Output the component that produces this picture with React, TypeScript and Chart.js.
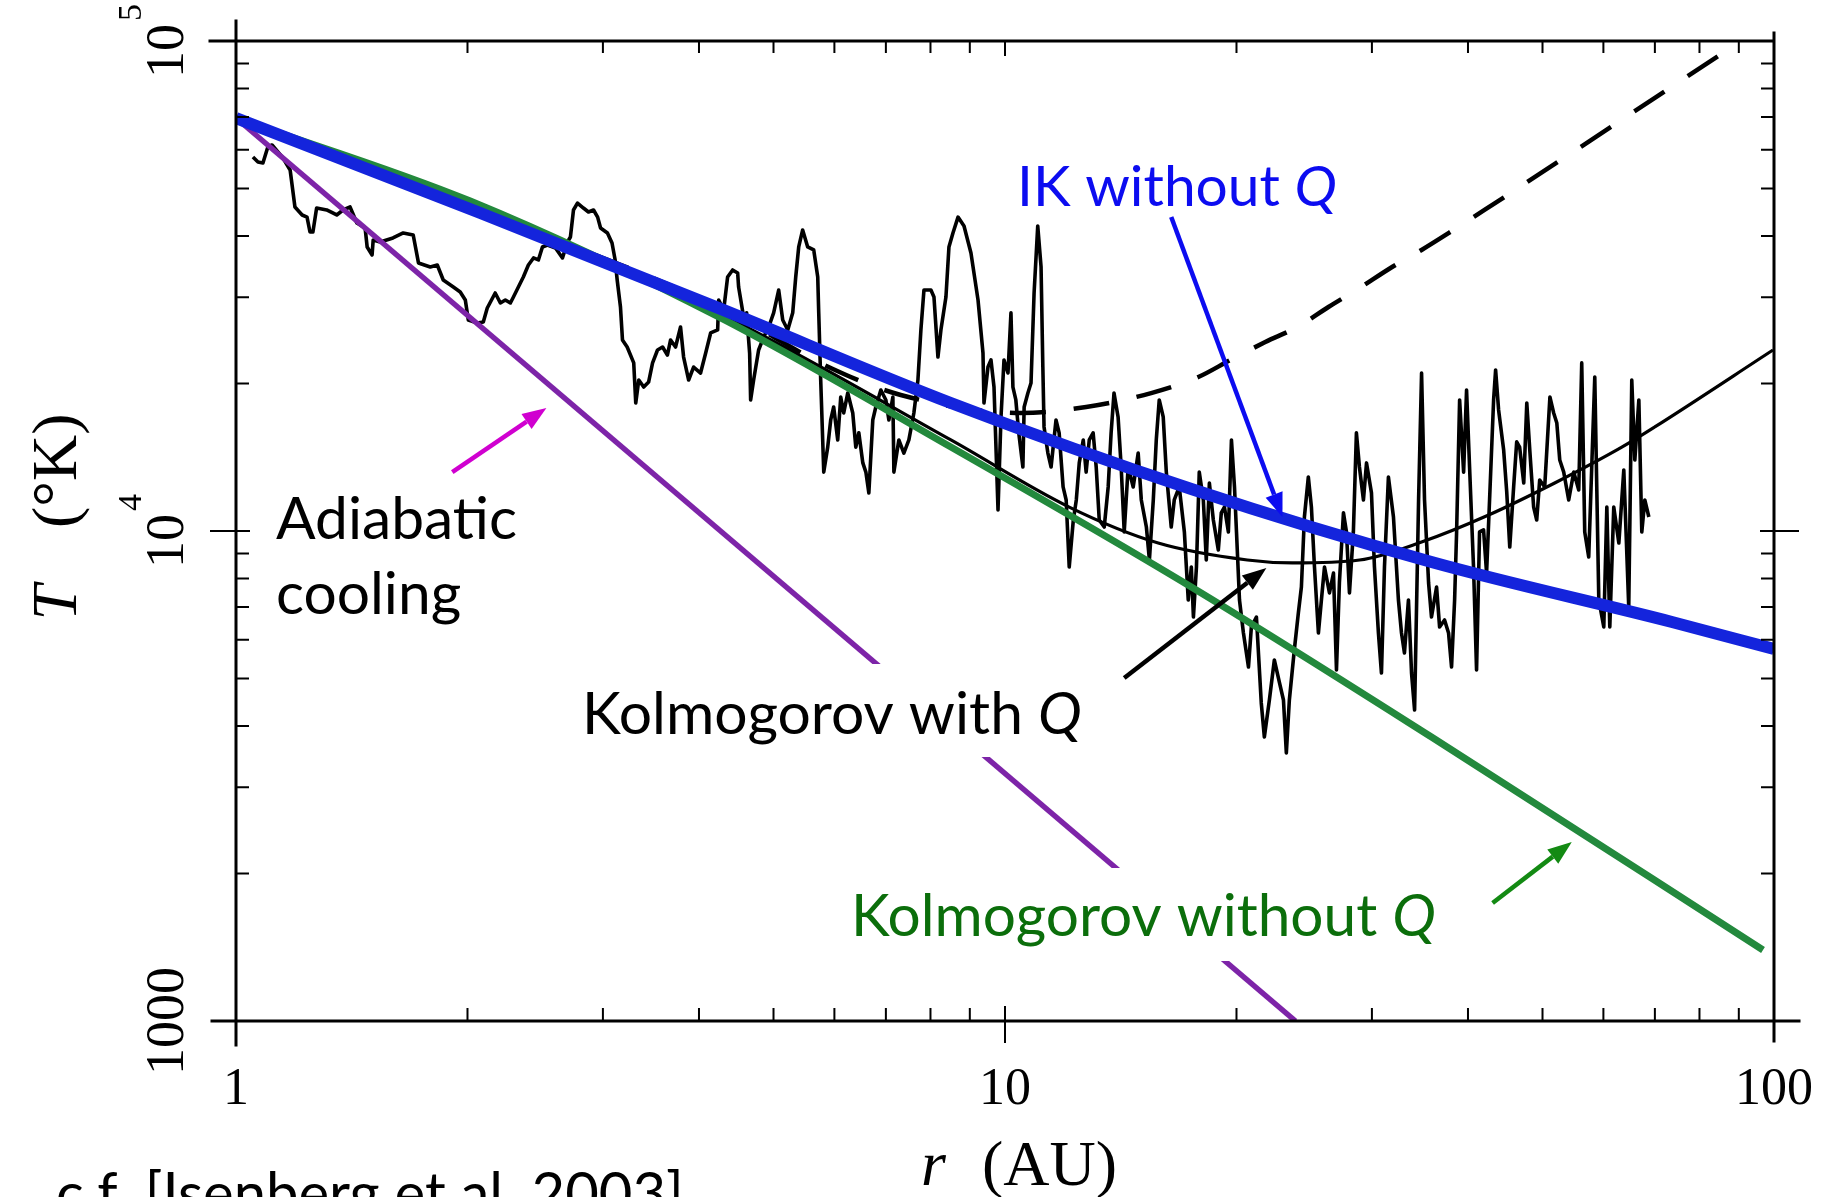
import React, { useEffect, useRef } from 'react';
import { Chart, registerables } from 'chart.js';

Chart.register(...registerables);

// ---------- axis values ----------
const xTickLabels = [1, 10, 100];
const yTickLabels: { value: number; body: string; sup: string }[] = [
  { value: 1000, body: '1000', sup: '' },
  { value: 10000, body: '10', sup: '4' },
  { value: 100000, body: '10', sup: '5' },
];

// ---------- model curves (r in AU, T in K) ----------
const ikR = [1, 2.078, 4.268, 8.504, 17.47, 35.86, 73.68, 100];
const ikT = [69640, 44570, 28400, 18250, 12180, 8643, 6521, 5743];

const kolR = [1, 2.017, 4.268, 8.504, 17.47, 35.86, 96.76];
const kolT = [69640, 47140, 27210, 14840, 7686, 3798, 1396];

const kolQR = [1, 2.017, 4.268, 8.504, 12.12, 15.82, 20.66, 23.64, 28.91, 34.81, 42.55, 51.86, 63.4, 69.99, 99.7];
const kolQT = [69640, 46490, 27730, 15340, 11190, 9452, 8727, 8606, 8727, 9495, 10780, 12530, 14830, 16310, 23410];

const dashR = [1, 2.078, 4.268, 5.934, 7.319, 10.49, 12.75, 15.49, 17.84, 19.63, 21.8, 24.0, 26.34, 28.91, 31.72, 34.81, 38.31, 42.03, 90.57];
const dashT = [69640, 44990, 28520, 21510, 18950, 17410, 17910, 19120, 20620, 22330, 24300, 26080, 28650, 31320, 34420, 37460, 41160, 45200, 100000];

const adiaR = [1, 23.86];
const adiaT = [69640, 1000];

// ---------- Voyager 2 temperature trace [r (AU), T (K)] ----------
const voyager: [number, number][] = [
  [1.052,57980],[1.068,56630],[1.084,56370],[1.100,60780],[1.114,61350],[1.151,57710],[1.176,54530],[1.193,45840],
  [1.219,44150],[1.237,43710],[1.248,40760],[1.259,40760],[1.273,45620],[1.312,45200],[1.352,44150],[1.378,45200],
  [1.407,45840],[1.436,42520],[1.472,41540],[1.481,37990],[1.503,36590],[1.508,39260],[1.540,38890],[1.600,39630],
  [1.650,40570],[1.700,40190],[1.727,35240],[1.789,34580],[1.827,34900],[1.860,32530],[1.917,31470],[1.957,30740],
  [1.987,29610],[2.005,26950],[2.060,26570],[2.097,26700],[2.122,28520],[2.173,30600],[2.207,29200],[2.240,29610],
  [2.274,29200],[2.295,30030],[2.343,32080],[2.364,32990],[2.400,34900],[2.437,36080],[2.473,35740],[2.503,37990],
  [2.541,38350],[2.603,37810],[2.658,36080],[2.698,38890],[2.722,39810],[2.747,45200],[2.780,46700],[2.830,45620],
  [2.873,44780],[2.917,45200],[2.953,43710],[2.979,41540],[3.041,40570],[3.083,38710],[3.112,35740],[3.131,32530],
  [3.162,28650],[3.181,24540],[3.226,23740],[3.290,22030],[3.310,18250],[3.340,20330],[3.390,19670],[3.440,20140],
  [3.481,22030],[3.533,23410],[3.587,23740],[3.639,22860],[3.674,24540],[3.729,23740],[3.785,26080],[3.820,22650],
  [3.878,20330],[3.936,21610],[4.019,21010],[4.081,23080],[4.142,25360],[4.230,25720],[4.243,29610],[4.307,28250],
  [4.358,32990],[4.424,34100],[4.491,33620],[4.504,31470],[4.572,27330],[4.613,27880],[4.655,23080],[4.669,18510],
  [4.711,20330],[4.782,23410],[4.855,24880],[4.929,26080],[5.002,27880],[5.078,31030],[5.140,26950],[5.218,25720],
  [5.296,27880],[5.344,32990],[5.392,37990],[5.456,41150],[5.539,37990],[5.640,37460],[5.708,32990],[5.725,27880],
  [5.759,20330],[5.812,13190],[5.881,14830],[5.934,16850],[5.987,17910],[6.060,15340],[6.115,18770],[6.170,17410],
  [6.245,19130],[6.339,17410],[6.397,14830],[6.455,15860],[6.533,13770],[6.593,13190],[6.652,11960],[6.731,16850],
  [6.792,17910],[6.895,19400],[7.000,18510],[7.063,16850],[7.148,18770],[7.170,13190],[7.277,15340],[7.387,14420],
  [7.499,15340],[7.612,17410],[7.705,20330],[7.774,25720],[7.845,31030],[8.011,31030],[8.084,30030],[8.181,22650],
  [8.254,25720],[8.379,30030],[8.455,37990],[8.557,40570],[8.688,43710],[8.845,41930],[9.031,36940],[9.224,29610],
  [9.362,23080],[9.390,18250],[9.503,21610],[9.589,22340],[9.676,19670],[9.793,11040],[9.881,17090],[9.970,22340],
  [10.09,21010],[10.18,27880],[10.24,19670],[10.33,18510],[10.42,15860],[10.55,13510],[10.59,17910],[10.71,19130],
  [10.81,20040],[10.91,30600],[11.03,41930],[11.14,34580],[11.20,21610],[11.24,16310],[11.37,14420],[11.48,13510],
  [11.65,16850],[11.76,15860],[11.90,12300],[12.01,11570],[12.12,8443],[12.27,10530],[12.38,11570],[12.49,13770],
  [12.64,15340],[12.75,13190],[12.87,15340],[13.02,15860],[13.14,13510],[13.26,10530],[13.46,10190],[13.62,12300],
  [13.74,15860],[13.86,19130],[14.03,17090],[14.16,13510],[14.29,9955],[14.46,13510],[14.68,12300],[14.90,14420],
  [15.04,11570],[15.27,10190],[15.41,8727],[15.59,11570],[15.73,15340],[15.87,18510],[16.06,17090],[16.21,13190],
  [16.45,10190],[16.60,11570],[16.85,12300],[17.11,9955],[17.31,7231],[17.47,8443],[17.58,6675],[17.74,8443],
  [17.89,13190],[18.11,11570],[18.27,8727],[18.44,12530],[18.66,10530],[18.94,9146],[19.11,10890],[19.29,11190],
  [19.52,9955],[19.70,15340],[19.88,12300],[20.00,9955],[20.18,7231],[20.42,6193],[20.73,5277],[20.91,6369],
  [21.23,6675],[21.54,4457],[21.74,3798],[22.07,4520],[22.40,5454],[22.75,4896],[23.02,4520],[23.22,3524],
  [23.43,4520],[23.78,5717],[24.07,6803],[24.29,7685],[24.51,10680],[24.80,12890],[25.03,11190],[25.26,8443],
  [25.56,6193],[25.79,7231],[26.03,8443],[26.42,7473],[26.74,8209],[26.98,5204],[27.22,7868],[27.55,10890],
  [27.80,9955],[28.05,7473],[28.38,9955],[28.64,15860],[28.90,13510],[29.25,11570],[29.52,13770],[29.96,11960],
  [30.23,8443],[30.59,6193],[30.87,5131],[31.15,8443],[31.52,12890],[32.00,10680],[32.48,7231],[32.78,6193],
  [33.07,5637],[33.47,7231],[33.78,5131],[34.09,4312],[34.50,11570],[34.81,21010],[35.12,11570],[35.55,7832],
  [35.86,6675],[36.41,7685],[36.74,6369],[37.29,6582],[37.74,6193],[38.08,5277],[38.43,7231],[38.66,9955],
  [39.01,18510],[39.48,13190],[39.83,19400],[40.19,13510],[40.67,8443],[41.04,5204],[41.41,9955],[41.91,10050],
  [42.29,8209],[42.67,11570],[43.19,18510],[43.45,21310],[43.84,17660],[44.51,14630],[44.92,12020],[45.33,9274],
  [45.86,12300],[46.28,15200],[46.69,14830],[47.27,12530],[47.70,18250],[48.13,14630],[48.69,11190],[49.14,10530],
  [49.58,12710],[50.33,12300],[51.12,18770],[51.70,17410],[52.19,16610],[52.65,13960],[53.28,13190],[54.08,11570],
  [54.90,13190],[55.73,12130],[56.23,22030],[56.74,9955],[57.42,8850],[57.94,13510],[58.47,20620],[59.18,7231],
  [60.07,6369],[60.62,11190],[61.16,6369],[61.89,11190],[62.84,9450],[63.78,13320],[64.73,6996],[65.32,20330],
  [65.92,13960],[66.72,18510],[67.31,9955],[67.92,11570],[68.75,10680],
];

// ---------- annotation arrows (data coordinates) ----------
const arrows: { from: [number, number]; to: [number, number]; color: string }[] = [
  { from: [1.911, 13190], to: [2.533, 17820], color: '#d000d0' },
  { from: [16.45, 43730], to: [22.95, 10680], color: '#0c0cf0' },
  { from: [14.29, 5012], to: [21.87, 8404], color: '#000000' },
  { from: [43.06, 1741], to: [54.58, 2319], color: '#138a13' },
];

const SERIF = '"Liberation Serif", "DejaVu Serif", "Times New Roman", serif';
const SANS = 'Lato, "Open Sans", "Noto Sans", sans-serif';

type Run = { t: string; it?: boolean };
type Label = {
  runs: Run[];
  left: number;
  right?: number;
  base?: number;
  capTop?: number;
  color: string;
  box?: [number, number];
};

const labels: Label[] = [
  { runs: [{ t: 'IK without ' }, { t: 'Q', it: true }], left: 1017, right: 1337, base: 206, color: '#0c0cf0' },
  { runs: [{ t: 'Adiabatic' }], left: 276, right: 517, base: 539, color: '#000' },
  { runs: [{ t: 'cooling' }], left: 276, base: 614, color: '#000' },
  { runs: [{ t: 'Kolmogorov with ' }, { t: 'Q', it: true }], left: 582, right: 1082, base: 734, color: '#000', box: [664, 757] },
  { runs: [{ t: 'Kolmogorov without ' }, { t: 'Q', it: true }], left: 851, right: 1436, base: 936, color: '#0b6e0b', box: [868, 961] },
  { runs: [{ t: 'c.f. [Isenberg et al. 2003]' }], left: 56, right: 684, capTop: 1172, color: '#000' },
];

function pts(r: number[], t: number[]) {
  return r.map((x, i) => ({ x, y: t[i] }));
}

function runsWidth(ctx: CanvasRenderingContext2D, runs: Run[], size: number, fam: string) {
  let w = 0;
  for (const r of runs) {
    ctx.font = `${r.it ? 'italic ' : ''}${size}px ${fam}`;
    w += ctx.measureText(r.t).width;
  }
  return w;
}

function drawRuns(ctx: CanvasRenderingContext2D, runs: Run[], x: number, y: number, size: number, fam: string, color: string) {
  let cx = x;
  ctx.fillStyle = color;
  for (const r of runs) {
    ctx.font = `${r.it ? 'italic ' : ''}${size}px ${fam}`;
    ctx.fillText(r.t, cx, y);
    cx += ctx.measureText(r.t).width;
  }
}

function drawArrow(ctx: CanvasRenderingContext2D, x1: number, y1: number, x2: number, y2: number, color: string) {
  const ang = Math.atan2(y2 - y1, x2 - x1);
  const hl = 24, hw = 18;
  const bx = x2 - hl * Math.cos(ang), by = y2 - hl * Math.sin(ang);
  ctx.strokeStyle = color;
  ctx.lineWidth = 4.5;
  ctx.lineCap = 'butt';
  ctx.beginPath();
  ctx.moveTo(x1, y1);
  ctx.lineTo(bx, by);
  ctx.stroke();
  ctx.fillStyle = color;
  ctx.beginPath();
  ctx.moveTo(x2, y2);
  ctx.lineTo(bx + (hw / 2) * Math.sin(ang), by - (hw / 2) * Math.cos(ang));
  ctx.lineTo(bx - (hw / 2) * Math.sin(ang), by + (hw / 2) * Math.cos(ang));
  ctx.closePath();
  ctx.fill();
}

const overlay = {
  id: 'overlay',
  afterDatasetsDraw(chart: any) {
    const ctx: CanvasRenderingContext2D = chart.ctx;
    const xs = chart.scales.x, ys = chart.scales.y;
    const X = (v: number) => xs.getPixelForValue(v);
    const Y = (v: number) => ys.getPixelForValue(v);
    const { left: L, right: R, top: T, bottom: B } = chart.chartArea;
    ctx.save();
    ctx.textBaseline = 'alphabetic';
    ctx.textAlign = 'left';

    // text annotations
    let lastSize = 60;
    for (const lab of labels) {
      let size = lastSize;
      if (lab.right !== undefined) {
        size = (100 * (lab.right - lab.left)) / runsWidth(ctx, lab.runs, 100, SANS);
      }
      lastSize = size;
      const w = runsWidth(ctx, lab.runs, size, SANS);
      const base = lab.base !== undefined ? lab.base : (lab.capTop as number) + 0.72 * size;
      if (lab.box) {
        ctx.fillStyle = '#ffffff';
        ctx.fillRect(lab.left - 12, lab.box[0], w + 24, lab.box[1] - lab.box[0]);
      }
      drawRuns(ctx, lab.runs, lab.left, base, size, SANS, lab.color);
    }

    // arrows
    for (const a of arrows) {
      drawArrow(ctx, X(a.from[0]), Y(a.from[1]), X(a.to[0]), Y(a.to[1]), a.color);
    }

    // frame
    ctx.strokeStyle = '#000';
    ctx.lineCap = 'square';
    ctx.lineWidth = 3;
    ctx.beginPath();
    ctx.moveTo(L - 26, T); ctx.lineTo(R, T);
    ctx.moveTo(L, T - 20); ctx.lineTo(L, B + 24);
    ctx.moveTo(L - 24, B); ctx.lineTo(R + 25, B);
    ctx.moveTo(R, T - 8); ctx.lineTo(R, B + 20);
    ctx.stroke();

    // minor / major ticks
    ctx.lineWidth = 2;
    ctx.lineCap = 'butt';
    ctx.beginPath();
    for (const d of [1, 10]) {
      for (let k = 2; k <= 9; k++) {
        const x = X(k * d);
        ctx.moveTo(x, T); ctx.lineTo(x, T + 12);
        ctx.moveTo(x, B); ctx.lineTo(x, B - 13);
      }
    }
    const x10 = X(10);
    ctx.moveTo(x10, T); ctx.lineTo(x10, T + 15);
    ctx.moveTo(x10, B - 15); ctx.lineTo(x10, B + 22);
    for (const d of [1000, 10000]) {
      for (let k = 2; k <= 9; k++) {
        const y = Y(k * d);
        ctx.moveTo(L, y); ctx.lineTo(L + 13, y);
        ctx.moveTo(R, y); ctx.lineTo(R - 13, y);
      }
    }
    const y4 = Y(10000);
    ctx.moveTo(L - 26, y4); ctx.lineTo(L + 14, y4);
    ctx.moveTo(R - 14, y4); ctx.lineTo(R + 25, y4);
    ctx.stroke();

    // rotated y tick labels
    ctx.fillStyle = '#000';
    for (const t of yTickLabels) {
      const y = Y(t.value);
      ctx.save();
      ctx.translate(183, y);
      ctx.rotate(-Math.PI / 2);
      ctx.font = `54px ${SERIF}`;
      const wb = ctx.measureText(t.body).width;
      let ws = 0;
      if (t.sup) {
        ctx.font = `34px ${SERIF}`;
        ws = ctx.measureText(t.sup).width + 3;
      }
      const start = -(wb + ws) / 2;
      ctx.font = `54px ${SERIF}`;
      ctx.fillText(t.body, start, 0);
      if (t.sup) {
        ctx.font = `34px ${SERIF}`;
        ctx.fillText(t.sup, start + wb + 3, -42);
      }
      ctx.restore();
    }

    // y axis title: T (°K)
    {
      ctx.save();
      ctx.translate(76, 517);
      ctx.rotate(-Math.PI / 2);
      const span = 207;
      ctx.font = `italic 64px ${SERIF}`;
      const wT = ctx.measureText('T').width;
      ctx.font = `64px ${SERIF}`;
      const wK = ctx.measureText('(°K)').width;
      const gap = Math.max(12, span - wT - wK);
      const start = -span / 2;
      ctx.font = `italic 64px ${SERIF}`;
      ctx.fillText('T', start, 0);
      ctx.font = `64px ${SERIF}`;
      ctx.fillText('(°K)', start + wT + gap, 0);
      ctx.restore();
    }

    // x axis title: r (AU)
    {
      const left = 921, span = 196, base = 1185;
      ctx.font = `italic 64px ${SERIF}`;
      const wr = ctx.measureText('r').width;
      ctx.font = `64px ${SERIF}`;
      const wa = ctx.measureText('(AU)').width;
      const gap = Math.max(10, span - wr - wa);
      ctx.font = `italic 64px ${SERIF}`;
      ctx.fillText('r', left, base);
      ctx.font = `64px ${SERIF}`;
      ctx.fillText('(AU)', left + wr + gap, base);
    }

    ctx.restore();
  },
};

export default function App() {
  const ref = useRef<HTMLCanvasElement>(null);
  useEffect(() => {
    const canvas = ref.current as HTMLCanvasElement;
    const chart = new Chart(canvas, {
      type: 'line',
      data: {
        datasets: [
          {
            label: 'IK without Q',
            data: pts(ikR, ikT),
            borderColor: '#1424dc',
            borderWidth: 12,
            pointRadius: 0,
            cubicInterpolationMode: 'monotone',
            borderCapStyle: 'butt',
          },
          {
            label: 'Kolmogorov without Q',
            data: pts(kolR, kolT),
            borderColor: '#23893d',
            borderWidth: 7,
            pointRadius: 0,
            cubicInterpolationMode: 'monotone',
          },
          {
            label: 'Adiabatic cooling',
            data: pts(adiaR, adiaT),
            borderColor: '#7d24a8',
            borderWidth: 5.5,
            pointRadius: 0,
            tension: 0,
          },
          {
            label: 'Kolmogorov with Q',
            data: pts(kolQR, kolQT),
            borderColor: '#000',
            borderWidth: 3.2,
            pointRadius: 0,
            cubicInterpolationMode: 'monotone',
          },
          {
            label: 'Kolmogorov with Q (dashed)',
            data: pts(dashR, dashT),
            borderColor: '#000',
            borderWidth: 4.5,
            borderDash: [36, 28],
            pointRadius: 0,
            cubicInterpolationMode: 'monotone',
          },
          {
            label: 'Voyager 2',
            data: voyager.map(([x, y]) => ({ x, y })),
            borderColor: '#000',
            borderWidth: 3.6,
            pointRadius: 0,
            tension: 0,
            borderJoinStyle: 'round',
          },
        ],
      },
      options: {
        responsive: false,
        animation: false,
        events: [],
        layout: { padding: { top: 41, right: 60, left: 0, bottom: 0 } },
        scales: {
          x: {
            type: 'logarithmic',
            min: 1,
            max: 100,
            grid: { display: false, drawTicks: false },
            border: { display: false },
            ticks: {
              autoSkip: false,
              maxRotation: 0,
              minRotation: 0,
              padding: 38,
              color: '#000',
              font: { family: SERIF, size: 52 },
              callback: (v: any) => (xTickLabels.some((m) => Math.abs(Number(v) - m) < 1e-6) ? String(Number(v)) : ''),
            },
            afterFit: (s: any) => {
              s.height = 176;
              s.paddingLeft = 0;
              s.paddingRight = 0;
            },
          },
          y: {
            type: 'logarithmic',
            min: 1000,
            max: 100000,
            grid: { display: false, drawTicks: false },
            border: { display: false },
            ticks: { display: false },
            afterFit: (s: any) => {
              s.width = 236;
              s.paddingTop = 0;
              s.paddingBottom = 0;
            },
          },
        },
        plugins: { legend: { display: false }, tooltip: { enabled: false } },
      } as any,
      plugins: [overlay],
    });
    return () => chart.destroy();
  }, []);
  return (
    <div style={{ position: 'absolute', left: 0, top: 0, width: 1834, height: 1197, background: '#fff' }}>
      <canvas ref={ref} width={1834} height={1197} style={{ display: 'block' }} />
    </div>
  );
}
